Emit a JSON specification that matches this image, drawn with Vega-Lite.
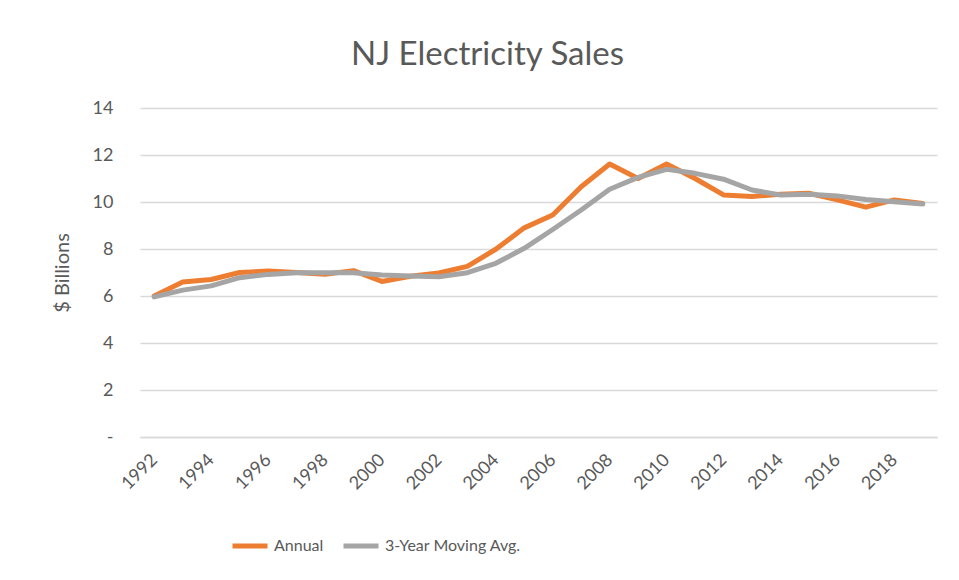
{
  "$schema": "https://vega.github.io/schema/vega-lite/v6.json",
  "width": 797,
  "height": 329,
  "autosize": {"type": "none"},
  "padding": {"left": 140, "top": 108, "right": 22, "bottom": 143},
  "background": "white",
  "title": {"text": "NJ Electricity Sales", "anchor": "start", "frame": "group", "dx": 211, "offset": 27, "fontSize": 33, "font": "Lato", "color": "#595959", "fontWeight": "normal"},
  "data": {"values": [
    {"year": 1992, "series": "Annual", "value": 6.0},
    {"year": 1993, "series": "Annual", "value": 6.6},
    {"year": 1994, "series": "Annual", "value": 6.7},
    {"year": 1995, "series": "Annual", "value": 7.0},
    {"year": 1996, "series": "Annual", "value": 7.06},
    {"year": 1997, "series": "Annual", "value": 7.0},
    {"year": 1998, "series": "Annual", "value": 6.93},
    {"year": 1999, "series": "Annual", "value": 7.08},
    {"year": 2000, "series": "Annual", "value": 6.62},
    {"year": 2001, "series": "Annual", "value": 6.84},
    {"year": 2002, "series": "Annual", "value": 6.98},
    {"year": 2003, "series": "Annual", "value": 7.26},
    {"year": 2004, "series": "Annual", "value": 7.99},
    {"year": 2005, "series": "Annual", "value": 8.9},
    {"year": 2006, "series": "Annual", "value": 9.45},
    {"year": 2007, "series": "Annual", "value": 10.65},
    {"year": 2008, "series": "Annual", "value": 11.62},
    {"year": 2009, "series": "Annual", "value": 11.0},
    {"year": 2010, "series": "Annual", "value": 11.62},
    {"year": 2011, "series": "Annual", "value": 11.0},
    {"year": 2012, "series": "Annual", "value": 10.3},
    {"year": 2013, "series": "Annual", "value": 10.23},
    {"year": 2014, "series": "Annual", "value": 10.33},
    {"year": 2015, "series": "Annual", "value": 10.37},
    {"year": 2016, "series": "Annual", "value": 10.09},
    {"year": 2017, "series": "Annual", "value": 9.78},
    {"year": 2018, "series": "Annual", "value": 10.09},
    {"year": 2019, "series": "Annual", "value": 9.94},
    {"year": 1992, "series": "3-Year Moving Avg.", "value": 5.96},
    {"year": 1993, "series": "3-Year Moving Avg.", "value": 6.25},
    {"year": 1994, "series": "3-Year Moving Avg.", "value": 6.43},
    {"year": 1995, "series": "3-Year Moving Avg.", "value": 6.78},
    {"year": 1996, "series": "3-Year Moving Avg.", "value": 6.92},
    {"year": 1997, "series": "3-Year Moving Avg.", "value": 6.99},
    {"year": 1998, "series": "3-Year Moving Avg.", "value": 6.99},
    {"year": 1999, "series": "3-Year Moving Avg.", "value": 6.99},
    {"year": 2000, "series": "3-Year Moving Avg.", "value": 6.89},
    {"year": 2001, "series": "3-Year Moving Avg.", "value": 6.85},
    {"year": 2002, "series": "3-Year Moving Avg.", "value": 6.82},
    {"year": 2003, "series": "3-Year Moving Avg.", "value": 6.99},
    {"year": 2004, "series": "3-Year Moving Avg.", "value": 7.39},
    {"year": 2005, "series": "3-Year Moving Avg.", "value": 8.03},
    {"year": 2006, "series": "3-Year Moving Avg.", "value": 8.83},
    {"year": 2007, "series": "3-Year Moving Avg.", "value": 9.66},
    {"year": 2008, "series": "3-Year Moving Avg.", "value": 10.54},
    {"year": 2009, "series": "3-Year Moving Avg.", "value": 11.05},
    {"year": 2010, "series": "3-Year Moving Avg.", "value": 11.39},
    {"year": 2011, "series": "3-Year Moving Avg.", "value": 11.22},
    {"year": 2012, "series": "3-Year Moving Avg.", "value": 10.97},
    {"year": 2013, "series": "3-Year Moving Avg.", "value": 10.51},
    {"year": 2014, "series": "3-Year Moving Avg.", "value": 10.3},
    {"year": 2015, "series": "3-Year Moving Avg.", "value": 10.33},
    {"year": 2016, "series": "3-Year Moving Avg.", "value": 10.26},
    {"year": 2017, "series": "3-Year Moving Avg.", "value": 10.11},
    {"year": 2018, "series": "3-Year Moving Avg.", "value": 10.01},
    {"year": 2019, "series": "3-Year Moving Avg.", "value": 9.91}
  ]},
  "mark": {"type": "line", "strokeWidth": 5, "strokeCap": "round", "strokeJoin": "round"},
  "encoding": {
    "x": {
      "field": "year", "type": "quantitative",
      "scale": {"domain": [1991.5, 2019.5], "nice": false, "zero": false},
      "axis": {
        "title": null,
        "values": [1992, 1994, 1996, 1998, 2000, 2002, 2004, 2006, 2008, 2010, 2012, 2014, 2016, 2018],
        "format": "d",
        "labelAngle": -45,
        "labelAlign": "right",
        "labelBaseline": "middle",
        "labelPadding": 20,
        "labelFont": "Lato",
        "labelFontSize": 18,
        "labelColor": "#595959",
        "ticks": false,
        "grid": false,
        "domainColor": "#d9d9d9",
        "domainWidth": 1.5,
        "labelOverlap": false,
        "labelBound": false,
        "labelFlush": false
      }
    },
    "y": {
      "field": "value", "type": "quantitative",
      "scale": {"domain": [0, 14], "nice": false},
      "axis": {
        "title": "$ Billions",
        "titleFont": "Lato",
        "titleFontSize": 20,
        "titleFontWeight": "normal",
        "titleColor": "#595959",
        "titlePadding": 20,
        "values": [0, 2, 4, 6, 8, 10, 12, 14],
        "labelExpr": "datum.value == 0 ? '-' : datum.label",
        "labelFont": "Lato",
        "labelFontSize": 18,
        "labelColor": "#595959",
        "labelPadding": 27,
        "ticks": false,
        "domain": false,
        "gridColor": "#d9d9d9",
        "gridWidth": 1.5
      }
    },
    "color": {
      "field": "series", "type": "nominal", "sort": ["Annual", "3-Year Moving Avg."],
      "scale": {"domain": ["Annual", "3-Year Moving Avg."], "range": ["#ED7D31", "#A5A5A5"]},
      "legend": {
        "title": null,
        "orient": "none",
        "direction": "horizontal",
        "legendX": 90,
        "legendY": 418,
        "symbolType": "stroke",
        "symbolSize": 1225,
        "symbolStrokeWidth": 5,
        "labelFont": "Lato",
        "labelFontSize": 16,
        "labelColor": "#595959",
        "labelOffset": 4,
        "columnPadding": 9
      }
    }
  },
  "config": {"view": {"stroke": null}}
}
